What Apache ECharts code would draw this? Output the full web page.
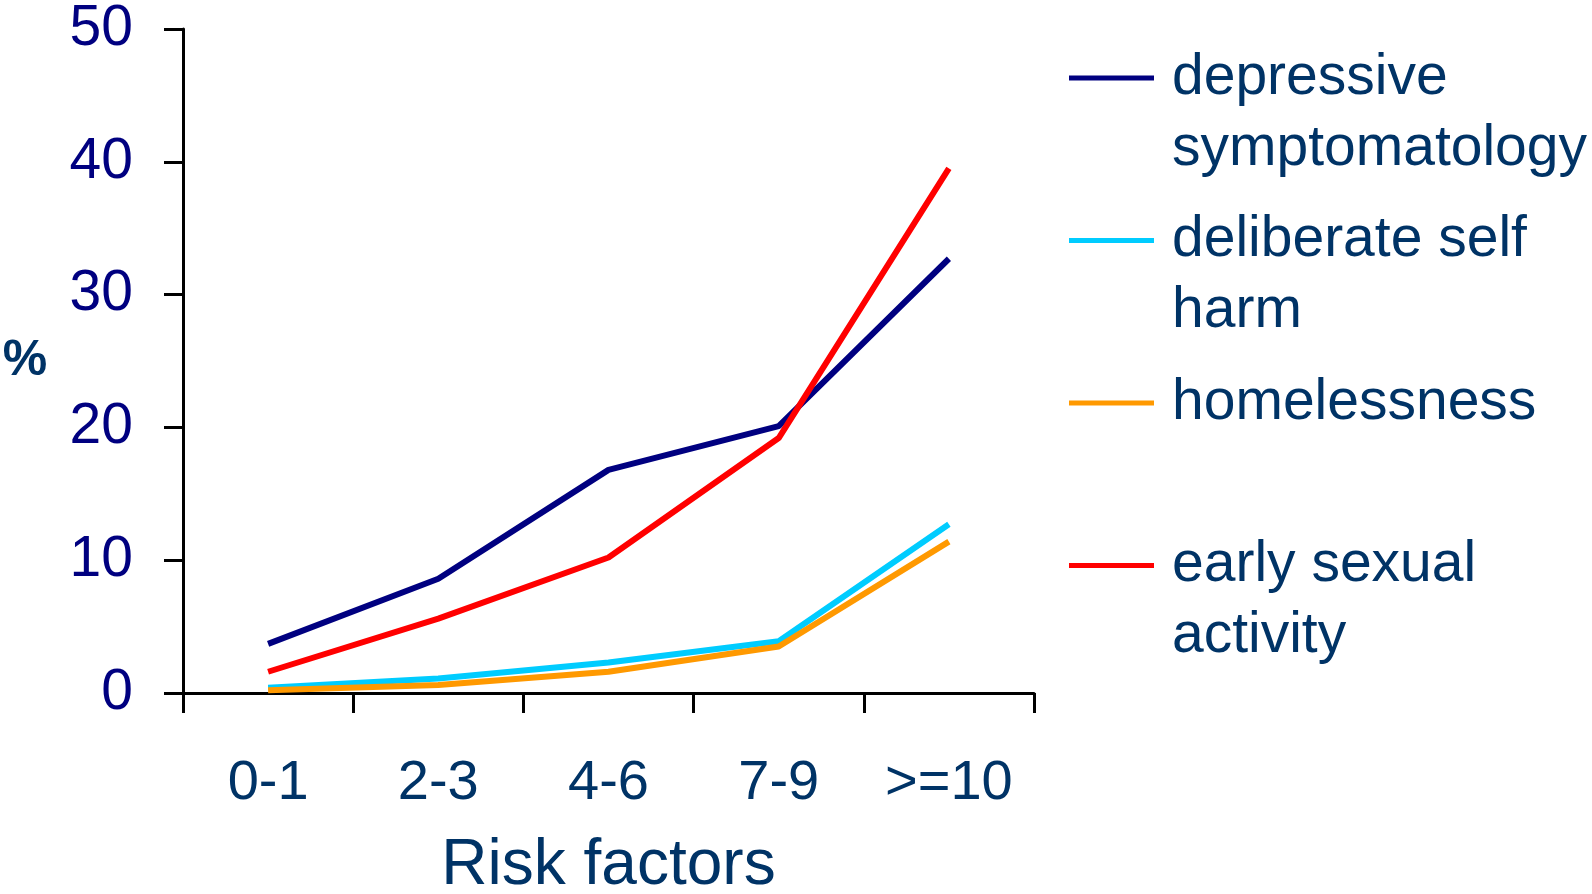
<!DOCTYPE html>
<html>
<head>
<meta charset="utf-8">
<script src="https://cdn.jsdelivr.net/npm/echarts@6/dist/echarts.min.js"></script>
<style>
html,body{margin:0;padding:0;background:#fff;}
#chart{width:1592px;height:894px;}
</style>
</head>
<body>
<div id="chart"></div>
<script>
const categories = ['0-1', '2-3', '4-6', '7-9', '>=10'];
const depressive = [3.7, 8.6, 16.8, 20.1, 32.7];
const selfHarm = [0.4, 1.1, 2.3, 3.9, 12.7];
const homelessness = [0.2, 0.6, 1.6, 3.5, 11.4];
const earlySexual = [1.6, 5.6, 10.2, 19.2, 39.5];
const seriesNames = ['depressive symptomatology', 'deliberate self harm', 'homelessness', 'early sexual activity'];
const legendFirstLines = ['depressive', 'deliberate self', 'homelessness', 'early sexual'];
const legendSecondLines = ['symptomatology', 'harm', '', 'activity'];
const colors = ['#000080', '#00CCFF', '#FF9900', '#FF0000'];
const yName = '%';
const xName = 'Risk factors';

const FONT = 'Liberation Sans, Arial, sans-serif';
const seriesData = [depressive, selfHarm, homelessness, earlySexual];

const legendTop = 39;
const legendStep = 162.5;
const lineH = 68;

const graphics = [];
legendSecondLines.forEach((t, i) => {
  if (!t) return;
  graphics.push({
    type: 'text',
    left: 1172,
    top: legendTop + i * legendStep + 76,
    style: { text: t, font: '57px ' + FONT, fill: '#003366', lineHeight: lineH, verticalAlign: 'top' }
  });
});

const chart = echarts.init(document.getElementById('chart'));
chart.setOption({
  backgroundColor: '#ffffff',
  animation: false,
  color: colors,
  grid: { left: 183, right: 558, top: 29, bottom: 201, containLabel: false, outerBoundsMode: 'none' },
  legend: {
    orient: 'vertical',
    left: 1064,
    top: legendTop,
    itemWidth: 85,
    itemHeight: 5,
    itemGap: legendStep - lineH,
    icon: 'rect',
    data: seriesNames,
    formatter: (name) => legendFirstLines[seriesNames.indexOf(name)],
    textStyle: { fontSize: 57, fontFamily: FONT, color: '#003366', lineHeight: lineH, padding: [0, 0, 0, 13] }
  },
  xAxis: {
    type: 'category',
    data: categories,
    boundaryGap: true,
    name: xName,
    nameLocation: 'middle',
    nameGap: 141,
    nameTextStyle: { fontSize: 64, fontFamily: FONT, color: '#003366', lineHeight: 64 },
    axisLine: { lineStyle: { color: '#000', width: 3 } },
    axisTick: { show: true, length: 20, lineStyle: { color: '#000', width: 3 } },
    axisLabel: { fontSize: 56, fontFamily: FONT, color: '#003366', margin: 63, lineHeight: 56 },
    splitLine: { show: false }
  },
  yAxis: {
    type: 'value',
    min: 0,
    max: 50,
    interval: 10,
    name: yName,
    nameLocation: 'middle',
    nameRotate: 0,
    nameGap: 158,
    nameTextStyle: { fontSize: 50, fontWeight: 'bold', fontFamily: FONT, color: '#003366', align: 'center', verticalAlign: 'middle' },
    axisLine: { show: true, lineStyle: { color: '#000', width: 3 } },
    axisTick: { show: true, length: 19, lineStyle: { color: '#000', width: 3 } },
    axisLabel: { fontSize: 57, fontFamily: FONT, color: '#000080', margin: 50 },
    splitLine: { show: false }
  },
  graphic: graphics,
  series: seriesNames.map((n, i) => ({
    name: n,
    type: 'line',
    data: seriesData[i],
    symbol: 'none',
    showSymbol: false,
    lineStyle: { width: 6, color: colors[i] },
    itemStyle: { color: colors[i] },
    z: 2 + i
  }))
});
</script>
</body>
</html>
